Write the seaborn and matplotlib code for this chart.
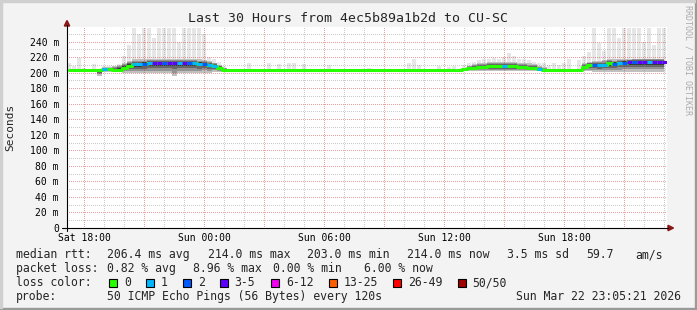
import numpy as np
import matplotlib
matplotlib.use("Agg")
import matplotlib.pyplot as plt
from matplotlib.patches import Polygon, Rectangle
from matplotlib.lines import Line2D
import seaborn as sns

# ---------------- data (15-minute bins, hours since Sat 00:00) ----------------
median_ms = [203, 203, 203, 203, 203, 203, 203,
             205, 204.5, 203, 203.5,
             206.5, 209, 210.5, 211, 211.5, 212, 212.5, 213, 212.5, 213, 213,
             212.5, 212.5, 212, 212, 211.5, 211, 210, 208.5, 206.5, 203.5,
             203, 203, 203, 203, 203, 203, 203, 203, 203, 203, 203, 203, 203, 203, 203, 203,
             203, 203, 203, 203, 203, 203, 203, 203, 203, 203, 203, 203, 203, 203, 203, 203,
             203, 203, 203, 203, 203, 203, 203, 203, 203, 203, 203, 203, 203, 203, 203,
             204, 205.5, 206, 207, 207.5, 208, 208, 208.5, 208.5, 208, 208, 207.5, 207, 205.5, 205.5, 204, 203.5,
             203, 203, 203, 203, 203, 203, 203,
             207, 209.5, 210, 209.5, 210, 212, 211.5, 212.5, 213, 213.5,
             214, 214, 214, 214, 214, 214, 214]

loss_idx = [0, 0, 0, 0, 0, 0, 0,
            1, 0, 0, 0,
            0, 0, 1, 1, 2, 1, 3, 3, 2, 3, 3, 1, 3, 2, 1, 1, 2, 1, 1, 0, 0,
            0, 0, 0, 0, 0, 0, 0, 0, 0, 0, 0, 0, 0, 0, 0, 0,
            0, 0, 0, 0, 0, 0, 0, 0, 0, 0, 0, 0, 0, 0, 0, 0,
            0, 0, 0, 0, 0, 0, 0, 0, 0, 0, 0, 0, 0, 0, 0,
            0, 0, 0, 0, 0, 0, 0, 0, 1, 0, 0, 0, 0, 0, 0, 1, 0,
            0, 0, 0, 0, 0, 0, 0,
            0, 0, 2, 1, 1, 0, 2, 1, 2, 3,
            2, 3, 3, 1, 3, 3, 3]

smoke_lo = [202.5, 202.5, 202.5, 202.5, 202.5, 202.5, 196,
            201, 201, 201, 201,
            200, 200, 199, 199, 199, 199, 199, 199, 199, 199, 195,
            199, 199, 199, 199, 199, 200, 200, 201, 201, 202,
            202.5, 202.5, 202.5, 202.5, 202.5, 202.5, 202.5, 202.5, 202.5, 202.5, 202.5, 202.5,
            202.5, 202.5, 202.5, 202.5, 202.5, 202.5, 202.5, 202.5, 202.5, 202.5, 202.5, 202.5,
            202.5, 202.5, 202.5, 202.5, 202.5, 202.5, 202.5, 202.5, 202.5, 202.5, 202.5, 202.5,
            202.5, 202.5, 202.5, 202.5, 202.5, 202.5, 202.5, 202.5, 202.5, 202.5, 202.5,
            202, 202, 202, 201.5, 201.5, 201.5, 201.5, 201.5, 201.5, 201.5, 201.5, 201.5, 201.5, 202, 202, 202, 202,
            202.5, 202.5, 202.5, 202.5, 202.5, 202.5, 202.5,
            202, 202, 201, 201, 201, 201, 201, 201, 201, 201,
            201, 201, 201, 201, 201, 201, 201]

smoke_hi = [203.5, 203.5, 203.5, 203.5, 203.5, 203.5, 203.5,
            207, 207, 208, 210,
            212, 215, 217, 217, 217, 217, 217, 217, 217, 217, 217,
            217, 217, 217, 217, 217, 216, 215, 213, 210, 206,
            203.5, 203.5, 203.5, 203.5, 203.5, 203.5, 203.5, 203.5, 203.5, 203.5, 203.5, 203.5,
            203.5, 203.5, 203.5, 203.5, 203.5, 203.5, 203.5, 203.5, 203.5, 203.5, 203.5, 203.5,
            203.5, 203.5, 203.5, 203.5, 203.5, 203.5, 203.5, 203.5, 203.5, 203.5, 203.5, 203.5,
            203.5, 203.5, 203.5, 203.5, 203.5, 203.5, 203.5, 203.5, 203.5, 203.5, 203.5,
            206, 209, 211, 213, 213, 214, 214, 214, 214, 214, 214, 213, 213, 212, 211, 209, 207,
            203.5, 203.5, 203.5, 203.5, 203.5, 203.5, 203.5,
            212, 214, 215, 215, 216, 217, 217, 218, 218, 218,
            218, 218, 218, 218, 218, 218, 218]

ping_max = [212, 209, 219, 206, 204, 211, 204,
            209, 208, 209, 211,
            222, 235, 257, 250, 257, 257, 245, 257, 257, 257, 257,
            240, 257, 257, 257, 257, 250, 220, 218, 214, 208,
            204, 203, 203, 203, 213, 203, 203, 203, 213, 203, 211, 203,
            213, 212, 203, 211, 203, 203, 203, 203, 210, 203, 203, 205,
            203, 203, 203, 203, 206, 203, 203, 203, 203, 203, 203, 203,
            212, 218, 210, 203, 203, 203, 209, 203, 207, 208, 203,
            210, 212, 214, 216, 218, 217, 219, 218, 220, 225, 221, 218, 217, 216, 214, 212, 213,
            210, 213, 210, 213, 218, 203, 216,
            222, 226, 257, 238, 228, 257, 257, 245, 257, 257,
            257, 257, 240, 257, 235, 257, 257]

loss_labels = ["0", "1", "2", "3-5", "6-12", "13-25", "26-49", "50/50"]
loss_colors = ["#26ff00", "#00b8ff", "#0059ff", "#5e00ff", "#f000f0", "#ff5e00", "#ff0000", "#a00000"]

y_ticks = [0, 20, 40, 60, 80, 100, 120, 140, 160, 180, 200, 220, 240]
y_labels = ["0", "20 m", "40 m", "60 m", "80 m", "100 m", "120 m", "140 m", "160 m",
            "180 m", "200 m", "220 m", "240 m"]
y_minor = [10, 30, 50, 70, 90, 110, 130, 150, 170, 190, 210, 230, 250]
x_ticks = [18, 21, 24, 27, 30, 33, 36, 39, 42, 45]
x_labels = ["Sat 18:00", "", "Sun 00:00", "", "Sun 06:00", "", "Sun 12:00", "", "Sun 18:00", ""]
x_minor = [19, 20, 22, 23, 25, 26, 28, 29, 31, 32, 34, 35, 37, 38, 40, 41, 43, 44, 46, 47]

title = "Last 30 Hours from 4ec5b89a1b2d to CU-SC"

# ---------------- figure ----------------
sns.set_theme(style="white")
plt.rcParams["font.family"] = ["DejaVu Sans Mono", "DejaVu Sans"]

W, H = 697, 310
fig = plt.figure(figsize=(W / 100, H / 100), dpi=100)
fig.patch.set_facecolor("#f3f3f3")


def fx(px):
    return px / W


def fy(py):
    return 1 - py / H


AX_L, AX_R, AX_T, AX_B = 67, 667, 27, 228
X0, X1, Y0, Y1 = 17.15, 47.15, 0, 258.7
ax = fig.add_axes([fx(AX_L), fy(AX_B), (AX_R - AX_L) / W, (AX_B - AX_T) / H])
ax.set_facecolor("white")

t = 17.25 + 0.25 * np.arange(len(median_ms))
med = np.array(median_ms, float)
lo = np.array(smoke_lo, float)
hi = np.array(smoke_hi, float)
mx = np.array(ping_max, float)
loss = np.array(loss_idx)

# light outlier spikes
ax.bar(t, mx - lo, bottom=lo, width=0.16, color="#e6e6e6", linewidth=0, zorder=1)

# smoke (darker towards the median)
for f, c in [(1.0, "#c0c0c0"), (0.74, "#939393"), (0.5, "#666666"), (0.28, "#383838")]:
    ax.fill_between(t, med - f * (med - lo), med + f * (hi - med), step="mid",
                    color=c, linewidth=0, zorder=1.5)

# dotted grid as a pixel-exact overlay (1 px on / 1 px off, like rrdtool)
GW, GH = AX_R - AX_L, AX_B - AX_T
px_per_h = GW / (X1 - X0)
px_per_ms = GH / (Y1 - Y0)
grid = np.zeros((GH, GW, 4))
minor_rgba = (0.55, 0.55, 0.55, 0.45)
major_rgba = (0.82, 0.12, 0.12, 0.42)
for vals, rgba in [(y_minor, minor_rgba), (y_ticks[1:], major_rgba)]:
    for yv in vals:
        r = int(round((Y1 - yv) * px_per_ms))
        if 0 <= r < GH:
            grid[r, 0::2] = rgba
for vals, rgba in [(x_minor, minor_rgba), (x_ticks, major_rgba)]:
    for xv in vals:
        c = int(round((xv - X0) * px_per_h))
        if 0 <= c < GW:
            grid[1::2, c] = rgba
ax.imshow(grid, extent=(X0, X1, Y0, Y1), aspect="auto", interpolation="nearest",
          origin="upper", zorder=2.5)

# median line coloured by loss
sns.lineplot(x=t, y=med, ax=ax, color=loss_colors[0], linewidth=2.2,
             drawstyle="steps-mid", estimator=None, sort=False, zorder=4)
for k in range(1, len(loss_colors)):
    m = loss == k
    if m.any():
        ax.hlines(med[m], t[m] - 0.125, t[m] + 0.125, colors=loss_colors[k],
                  linewidth=2.2, zorder=5)

ax.set_xlim(X0, X1)
ax.set_ylim(Y0, Y1)

ax.set_yticks(y_ticks)
ax.set_yticklabels(y_labels)
ax.set_xticks(x_ticks)
ax.set_xticklabels(x_labels)
ax.grid(False)

ax.tick_params(axis="both", which="both", length=0)
ax.tick_params(axis="y", pad=5.8, labelsize=7.0, labelcolor="black")
ax.tick_params(axis="x", pad=3.5, labelsize=7.0, labelcolor="black")
for lab in ax.get_yticklabels() + ax.get_xticklabels():
    lab.set_fontfamily("DejaVu Sans Mono")
for s in ax.spines.values():
    s.set_visible(False)
ax.set_xlabel("")
ax.set_ylabel("")

# axes lines + arrows
fig.add_artist(Line2D([fx(62), fx(668)], [fy(228), fy(228)], color="black", linewidth=0.8))
fig.add_artist(Line2D([fx(67), fx(67)], [fy(231), fy(25)], color="black", linewidth=0.8))
arrow_c = "#8b1515"
fig.add_artist(Polygon([(fx(64.3), fy(26)), (fx(69.7), fy(26)), (fx(67), fy(20.5))],
                       closed=True, transform=fig.transFigure, color=arrow_c))
fig.add_artist(Polygon([(fx(668), fy(225.3)), (fx(668), fy(230.7)), (fx(673.5), fy(228))],
                       closed=True, transform=fig.transFigure, color=arrow_c))

# frame (3D border)
fig.add_artist(Rectangle((0, 0), 1, 2 / H, transform=fig.transFigure, color="#9a9a9a", zorder=10))
fig.add_artist(Rectangle((1 - 2 / W, 0), 2 / W, 1, transform=fig.transFigure, color="#9a9a9a", zorder=10))
fig.add_artist(Rectangle((0, 1 - 2 / H), 1 - 2 / W, 2 / H, transform=fig.transFigure, color="#d0d0d0", zorder=10))
fig.add_artist(Rectangle((0, 2 / H), 2 / W, 1 - 4 / H, transform=fig.transFigure, color="#d0d0d0", zorder=10))

# texts
fig.text(fx(348.5), fy(19), title, ha="center", va="center", fontsize=9.5)
fig.text(fx(10), fy(127), "Seconds", rotation=90, ha="center", va="center", fontsize=8)
fig.text(fx(688), fy(5), "RRDTOOL / TOBI OETIKER", rotation=270, ha="center", va="top",
         fontsize=6, color="#ababab")

FS = 8.3
rows = {
    258: [(16, "median rtt:"), (107, "206.4 ms avg"), (207.5, "214.0 ms max"), (306.7, "203.0 ms min"),
          (406.7, "214.0 ms now"), (506.7, "3.5 ms sd"), (585.8, "59.7"), (635.6, "am/s")],
    272: [(16, "packet loss:"), (107, "0.82 % avg"), (193, "8.96 % max"), (273, "0.00 % min"),
          (364.4, "6.00 % now")],
    286: [(16, "loss color:")],
    300: [(16, "probe:"), (107, "50 ICMP Echo Pings (56 Bytes) every 120s")],
}
for yb, items in rows.items():
    for xx, s in items:
        fig.text(fx(xx), fy(yb), s, ha="left", va="baseline", fontsize=FS)
fig.text(fx(680.5), fy(300), "Sun Mar 22 23:05:21 2026", ha="right", va="baseline", fontsize=FS)

box_x = [109, 146, 183, 220, 271, 329, 393, 458]
lab_x = [124, 161, 198, 234, 286, 344, 408, 472]
for bx, lx, c, s in zip(box_x, lab_x, loss_colors, loss_labels):
    fig.add_artist(Rectangle((fx(bx), fy(286.5)), 8 / W, 8 / H, transform=fig.transFigure,
                             facecolor=c, edgecolor="black", linewidth=0.8))
    fig.text(fx(lx), fy(286), s, ha="left", va="baseline", fontsize=FS)

fig.savefig("out.png", dpi=100, facecolor=fig.get_facecolor())
